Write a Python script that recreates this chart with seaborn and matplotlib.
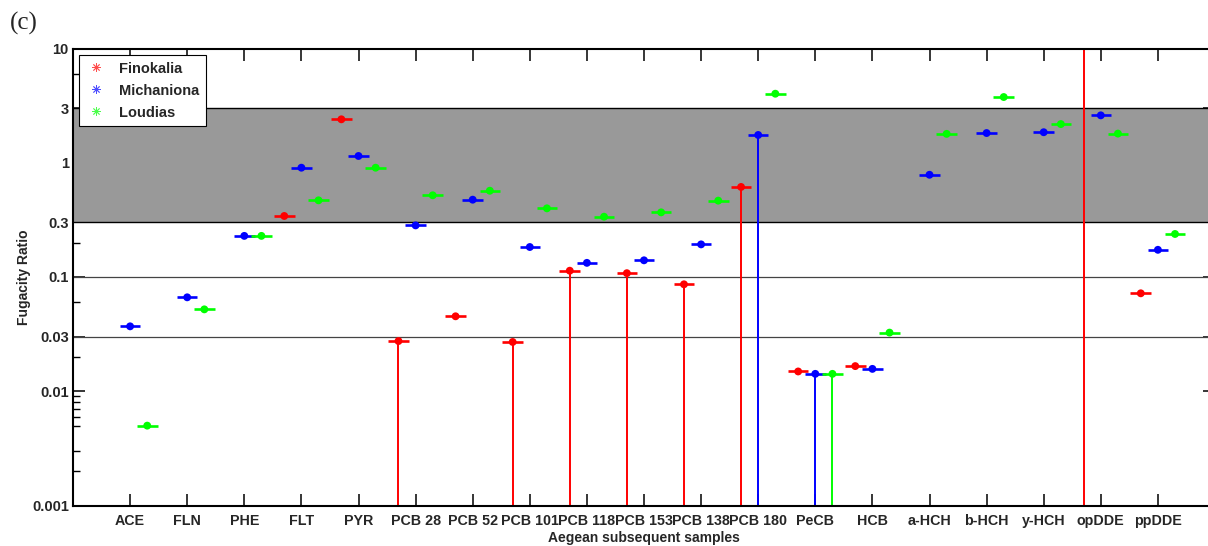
import numpy as np
import pandas as pd
import matplotlib
matplotlib.use("Agg")
import matplotlib.pyplot as plt
from matplotlib.lines import Line2D
from matplotlib.ticker import FixedLocator, NullFormatter, NullLocator
import seaborn as sns

# ---------------- data ----------------
categories = ["ACE", "FLN", "PHE", "FLT", "PYR", "PCB 28", "PCB 52", "PCB 101",
              "PCB 118", "PCB 153", "PCB 138", "PCB 180", "PeCB", "HCB",
              "a-HCH", "b-HCH", "y-HCH", "opDDE", "ppDDE"]
series_names = ["Finokalia", "Michaniona", "Loudias"]

finokalia = [np.nan, np.nan, np.nan, 0.342, 2.40, 0.0275, 0.0453, 0.027,
             0.1135, 0.108, 0.0863, 0.614, 0.0149, 0.0166,
             np.nan, np.nan, np.nan, 15.0, 0.072]
michaniona = [0.037, 0.0664, 0.229, 0.905, 1.146, 0.283, 0.475, 0.183,
              0.133, 0.140, 0.193, 1.75, 0.0142, 0.0157,
              0.785, 1.82, 1.85, 2.60, 0.173]
loudias = [0.0050, 0.0521, 0.229, 0.469, 0.905, 0.519, 0.569, 0.399,
           0.337, 0.368, 0.466, 4.02, 0.0142, 0.0326,
           1.79, 3.76, 2.18, 1.80, 0.238]

# lower uncertainty bound (0 -> down to zero; nan -> no lower bar)
finokalia_low = [np.nan, np.nan, np.nan, np.nan, np.nan, 0, np.nan, 0,
                 0, 0, 0, 0, np.nan, np.nan,
                 np.nan, np.nan, np.nan, 0, np.nan]
michaniona_low = [np.nan] * 11 + [0, 0] + [np.nan] * 6
loudias_low = [np.nan] * 12 + [0] + [np.nan] * 6

ytick_values = [0.001, 0.01, 0.03, 0.1, 0.3, 1, 3, 10]
ytick_labels = ["0.001", "0.01", "0.03", "0.1", "0.3", "1", "3", "10"]
yminor_values = [0.002, 0.003, 0.005, 0.006, 0.007, 0.008, 0.009, 0.02, 0.06, 0.2, 6]
band = (0.3, 3)
ref_lines = [0.03, 0.1]

# ---------------- style ----------------
sns.set_style("white")
plt.rcParams["font.family"] = ["Liberation Sans", "DejaVu Sans"]

colors = {"Finokalia": "#ff0000", "Michaniona": "#0000ff", "Loudias": "#00ff00"}
offsets = {"Finokalia": -0.3, "Michaniona": 0.0, "Loudias": 0.3}
values = {"Finokalia": finokalia, "Michaniona": michaniona, "Loudias": loudias}
lows = {"Finokalia": finokalia_low, "Michaniona": michaniona_low, "Loudias": loudias_low}

rows = []
for s in series_names:
    for i, c in enumerate(categories):
        rows.append({"series": s, "pos": i + 1 + offsets[s], "value": values[s][i],
                     "low": lows[s][i]})
df = pd.DataFrame(rows)

W, H = 1208, 546
fig = plt.figure(figsize=(W / 100, H / 100), dpi=100)
ax = fig.add_axes([73 / W, (H - 505.5) / H, (1215 - 73) / W, 457 / H])
ax.set_axisbelow(True)

ymin, ymax = 0.001, 10
ax.set_yscale("log")
ax.set_ylim(ymin, ymax)
ax.set_xlim(0, len(categories) + 1)

ax.axhspan(band[0], band[1], facecolor="#999999", edgecolor="none", zorder=1)
for y in band:
    ax.axhline(y, color="black", lw=1.0, zorder=1.1)
for y in ref_lines:
    ax.axhline(y, color="#444444", lw=0.9, zorder=1.1)

half_w = 0.18
for s in series_names:
    d = df[df.series == s].dropna(subset=["value"])
    dl = d.dropna(subset=["low"])
    if len(dl):
        ax.vlines(dl.pos, np.maximum(dl.low, ymin / 10), dl.value,
                  color=colors[s], lw=1.4, zorder=2)
    ax.hlines(d.value, d.pos - half_w, d.pos + half_w, color=colors[s], lw=1.9, zorder=3)

sns.scatterplot(data=df.dropna(subset=["value"]), x="pos", y="value", hue="series",
                palette=colors, hue_order=series_names, s=32, linewidth=0,
                legend=False, ax=ax, zorder=4)

# axes formatting
ax.xaxis.set_major_locator(FixedLocator(np.arange(1, len(categories) + 1)))
ax.set_xticklabels(categories, fontsize=10.3, fontweight="bold")
ax.xaxis.set_minor_locator(NullLocator())
ax.yaxis.set_major_locator(FixedLocator(ytick_values))
ax.set_yticklabels(ytick_labels, fontsize=10.5, fontweight="bold")
ax.yaxis.set_minor_locator(FixedLocator(yminor_values))
ax.yaxis.set_minor_formatter(NullFormatter())
ax.tick_params(axis="both", which="major", direction="in", length=8.5, width=1.1,
               top=True, right=True, bottom=True, left=True, color="black")
ax.tick_params(axis="y", which="minor", direction="in", length=5, width=1.0,
               left=True, right=False, color="black")
ax.tick_params(axis="x", which="major", pad=6)
ax.tick_params(axis="y", which="major", pad=3)

for sp in ax.spines.values():
    sp.set_color("black")
    sp.set_linewidth(1.5)
    sp.set_zorder(5)

ax.set_xlabel("Aegean subsequent samples", fontsize=10, fontweight="bold", labelpad=2)
ax.set_ylabel("Fugacity Ratio", fontsize=10, fontweight="bold", labelpad=1)

handles = [Line2D([], [], ls="none", marker=(8, 2, 0), markersize=6, mew=0.6,
                  color=colors[s], alpha=0.7) for s in series_names]
leg = ax.legend(handles, series_names, loc="upper left",
                bbox_to_anchor=(79 / W, 1 - 55 / H), bbox_transform=fig.transFigure,
                borderaxespad=0, prop={"size": 10.5, "weight": "bold"}, frameon=True,
                fancybox=False, framealpha=1, edgecolor="black", handlelength=1.4,
                handletextpad=0.9, labelspacing=0.55, borderpad=0.45)
leg.get_frame().set_linewidth(0.8)
leg.set_zorder(10)

fig.text(10 / W, 1 - 23 / H, "(c)", fontsize=18, family=["Liberation Serif", "DejaVu Serif"],
         va="center", ha="left")

fig.savefig("out.png", dpi=100)
